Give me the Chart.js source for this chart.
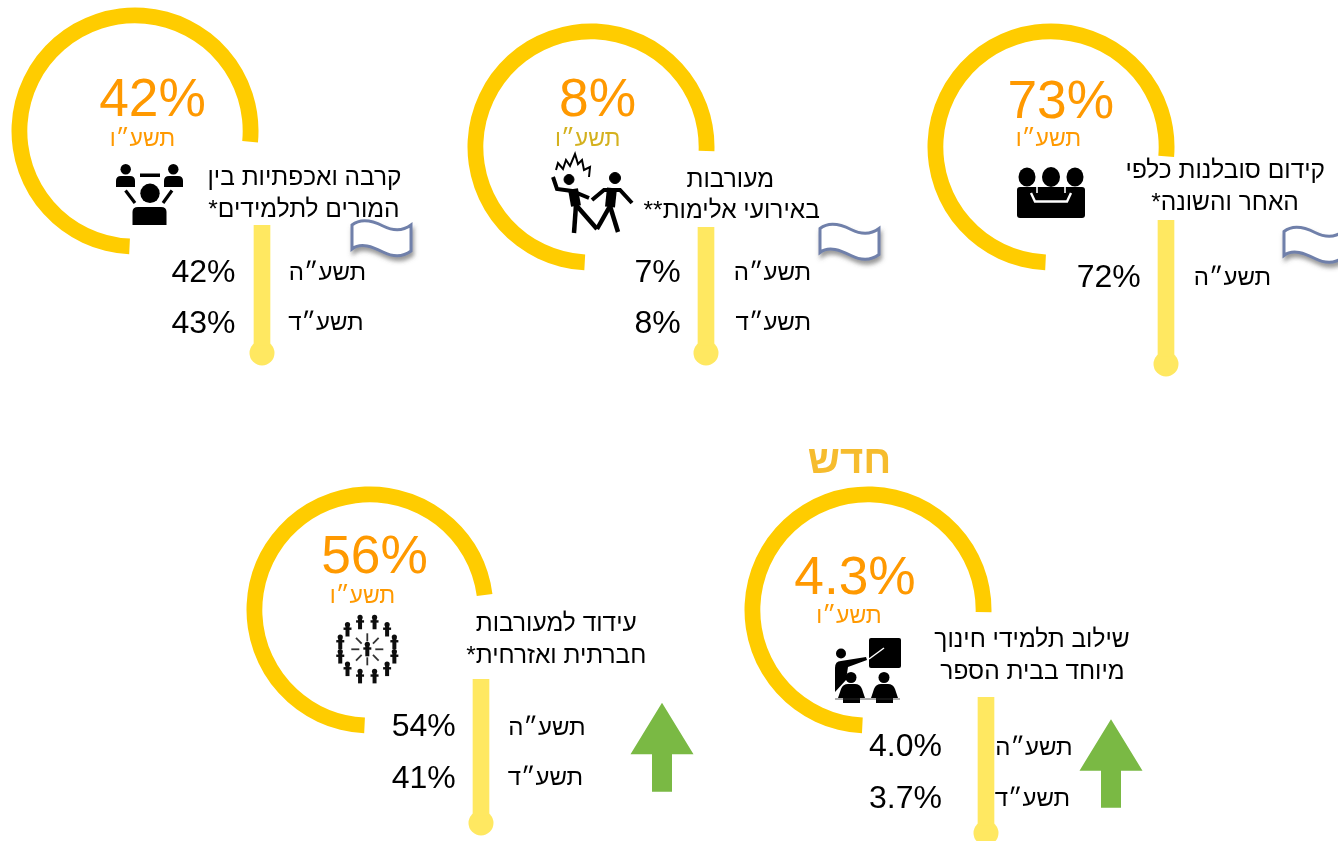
<!DOCTYPE html>
<html lang="he">
<head>
<meta charset="utf-8">
<title>gauges</title>
<script src="https://cdn.jsdelivr.net/npm/chart.js@4"></script>
<style>
  html, body { margin: 0; padding: 0; background: #fff; width: 1338px; height: 841px; overflow: hidden; }
  canvas { position: absolute; }
  #overlay { position: absolute; left: 0; top: 0; }
  #overlay text { font-family: "Liberation Sans", Arial, sans-serif; }
</style>
</head>
<body>
<svg id="overlay" width="1338" height="841" xmlns="http://www.w3.org/2000/svg">
  <defs>
    <filter id="flagShadow" x="-20%" y="-20%" width="150%" height="170%">
      <feDropShadow dx="1.5" dy="4" stdDeviation="2" flood-color="#555" flood-opacity="0.6"/>
    </filter>
    <filter id="soft" x="-10%" y="-10%" width="120%" height="120%"><feGaussianBlur stdDeviation="0.5"/></filter>
    <filter id="softer" x="-10%" y="-10%" width="120%" height="120%"><feGaussianBlur stdDeviation="0.7"/></filter>
  </defs>
</svg>
<script>
var panelTitles = [
  ["קרבה ואכפתיות בין", "המורים לתלמידים*"],
  ["מעורבות", "באירועי אלימות**"],
  ["קידום סובלנות כלפי", "האחר והשונה*"],
  ["עידוד למעורבות", "חברתית ואזרחית*"],
  ["שילוב תלמידי חינוך", "מיוחד בבית הספר"]
];
var yearNow = "תשע״ו";
var yearPrev = "תשע״ה";
var yearOlder = "תשע״ד";
var newBadge = "חדש";

var valuesNow = [42, 8, 73, 56, 4.3];
var valuesPrev = [42, 7, 72, 54, 4.0];
var valuesOlder = [43, 8, null, 41, 3.7];
var decimals = [0, 0, 0, 0, 1];

// ring sweep in degrees, the ring is the same decoration on every panel
var ringArc = [272.6, 268.9, 272, 259.8, 268.3];
var ringGap = [87.4, 91.1, 88, 100.2, 91.7];

var RING = "#FFCC00", STEM = "#FFE861", ORANGE = "#FF9900", GREEN = "#7AB944";

// where things sit on the page
var layout = [
  { cx: 134.5, cy: 130.5, start: 182.7, stem: [261.5, 225, 120, 128], big: [152.5, 116], sub: [142.5, 145.5], subColor: ORANGE,
    title: [[304.5, 185], [304, 216.7]], valX: 235.5, valY: [281.7, 332.5], yearX: [327.5, 326], yearY: [280, 330] },
  { cx: 590.5, cy: 147, start: 183.1, stem: [706, 227, 118, 126], big: [597.5, 115.5], sub: [587.7, 146], subColor: "#D4B11E",
    title: [[730.3, 186.7], [731.7, 218]], valX: 680.7, valY: [281.7, 332.7], yearX: [772.5, 773.3], yearY: [280, 330] },
  { cx: 1051.2, cy: 147, start: 182.7, stem: [1166, 220, 136, 144], big: [1060.8, 118.3], sub: [1048.5, 146], subColor: ORANGE,
    title: [[1225.3, 178.3], [1225, 210]], valX: 1140.7, valY: [286.7], yearX: [1232.5], yearY: [285] },
  { cx: 369.5, cy: 610, start: 182.7, stem: [481, 679, 136, 144], big: [374.5, 573.3], sub: [362.5, 602.7], subColor: ORANGE,
    title: [[556.3, 631], [556.3, 663.3]], valX: 455.7, valY: [736, 787.7], yearX: [547, 545.5], yearY: [735, 785] },
  { cx: 868, cy: 609.5, start: 182.8, stem: [985.5, 697, 128, 136], big: [855, 594], sub: [849, 622.7], subColor: ORANGE,
    title: [[1032, 647.3], [1032.5, 679.3]], valX: 942, valY: [756, 808], yearX: [1034, 1032.5], yearY: [755, 805.7] }
];

Chart.defaults.animation = false;

var svg = document.getElementById("overlay");

function el(tag, attrs, parent) {
  var e = document.createElementNS("http://www.w3.org/2000/svg", tag);
  for (var k in attrs) e.setAttribute(k, attrs[k]);
  (parent || svg).appendChild(e);
  return e;
}

function addText(str, x, y, size, color, anchor, bold) {
  var t = el("text", { x: x, y: y, "font-size": size, fill: color, "text-anchor": anchor || "middle", direction: "rtl" });
  if (anchor === "ltr-end") { t.setAttribute("text-anchor", "end"); t.setAttribute("direction", "ltr"); }
  if (bold) t.setAttribute("font-weight", "bold");
  t.textContent = str;
}

function addCanvas(x, y, w, h) {
  var c = document.createElement("canvas");
  c.width = w; c.height = h;
  c.style.left = x + "px"; c.style.top = y + "px";
  c.style.width = w + "px"; c.style.height = h + "px";
  document.body.insertBefore(c, svg);
  return c;
}

function drawRing(i) {
  var p = layout[i];
  new Chart(addCanvas(p.cx - 125, p.cy - 125, 250, 250), {
    type: "doughnut",
    data: {
      datasets: [{
        data: [ringArc[i], ringGap[i]],
        backgroundColor: [RING, "rgba(0,0,0,0)"],
        borderWidth: 0
      }]
    },
    options: {
      responsive: false,
      rotation: p.start,
      circumference: 360,
      radius: 123.5,
      cutout: "87.2%",
      events: [],
      plugins: { legend: { display: false }, tooltip: { enabled: false } }
    }
  });
}

function drawStem(i) {
  var s = layout[i].stem;
  var h = s[3] + 13;
  new Chart(addCanvas(s[0] - 14, s[1], 28, h), {
    data: {
      labels: [""],
      datasets: [
        { type: "bar", data: [[0, s[2]]], backgroundColor: STEM, barThickness: 16 },
        { type: "line", data: [s[3]], pointRadius: 12.5, pointBackgroundColor: STEM, pointBorderWidth: 0, showLine: false, clip: false }
      ]
    },
    options: {
      responsive: false,
      events: [],
      layout: { padding: 0, autoPadding: false },
      scales: {
        x: { display: false },
        y: { display: false, reverse: true, min: 0, max: h }
      },
      plugins: { legend: { display: false }, tooltip: { enabled: false } }
    }
  });
}

function drawFlag(x, y) {
  var g = el("g", { transform: "translate(" + x + "," + y + ")", filter: "url(#flagShadow)" });
  el("path", {
    d: "M1,4 C10,-3 22,0 32,5 C42,10 52,10 60,4 L60,30 C52,36 42,36 32,31 C22,26 10,21 1,28 Z",
    fill: "#fff", stroke: "#7080AA", "stroke-width": 3
  }, g);
}

function drawArrow(cx, top, baseY, bottom) {
  el("polygon", {
    points: [cx, top, cx + 31.5, baseY, cx + 10, baseY, cx + 10, bottom, cx - 10, bottom, cx - 10, baseY, cx - 31.5, baseY].join(","),
    fill: GREEN
  });
}

function iconTeachers() {
  var g = el("g", { fill: "#000" });
  el("circle", { cx: 125.7, cy: 169.3, r: 5.2 }, g);
  el("circle", { cx: 173.3, cy: 169.3, r: 5.2 }, g);
  el("path", { d: "M116,187 V181 Q116,176 121,176 H130 Q135,176 135,181 V187 Z" }, g);
  el("path", { d: "M164,187 V181 Q164,176 169,176 H178 Q183,176 183,181 V187 Z" }, g);
  el("rect", { x: 140, y: 173.5, width: 20, height: 3.5 }, g);
  el("circle", { cx: 150, cy: 193.3, r: 9.7 }, g);
  el("path", { d: "M132.5,225 V212 Q132.5,207 138,207 H161 Q166.5,207 166.5,212 V225 Z" }, g);
  el("line", { x1: 125.5, y1: 190.5, x2: 135, y2: 203, stroke: "#000", "stroke-width": 3.2 }, g);
  el("line", { x1: 172, y1: 190.5, x2: 163, y2: 203, stroke: "#000", "stroke-width": 3.2 }, g);
}

function iconViolence() {
  var g = el("g", { stroke: "#000", fill: "none", "stroke-width": 4.5, filter: "url(#soft)" });
  el("circle", { cx: 569, cy: 179.5, r: 5, fill: "#000", "stroke-width": 1 }, g);
  el("circle", { cx: 615, cy: 178, r: 5.5, fill: "#000", "stroke-width": 1 }, g);
  // left figure
  el("polyline", { points: "553,177 557,189 572,191 589,198", "stroke-width": 4 }, g);
  el("line", { x1: 573, y1: 189, x2: 576, y2: 206, "stroke-width": 10 }, g);
  el("polyline", { points: "576,205 574,233" }, g);
  el("polyline", { points: "576,205 597,229" }, g);
  // right figure
  el("polyline", { points: "592,200 604,190 620,190 632,203", "stroke-width": 4 }, g);
  el("line", { x1: 612, y1: 188, x2: 610, y2: 207, "stroke-width": 10 }, g);
  el("polyline", { points: "610,206 597,229" }, g);
  el("polyline", { points: "610,206 618,232" }, g);
  // the spark over the left head
  el("polyline", { points: "556,170 558,163 563,169 566,160 570,166 575,154 578,164 582,160 584,170 590,167 589,177", "stroke-width": 2 }, g);
}

function iconGroup() {
  var g = el("g", { fill: "#000" });
  el("ellipse", { cx: 1027, cy: 177, rx: 8.5, ry: 9.5 }, g);
  el("ellipse", { cx: 1051, cy: 177, rx: 9, ry: 10 }, g);
  el("ellipse", { cx: 1075, cy: 177, rx: 8.5, ry: 9.5 }, g);
  el("rect", { x: 1017, y: 187, width: 68, height: 31, rx: 3 }, g);
  el("polyline", { points: "1031,193 1035,201.5 1067,201.5 1071,193", fill: "none", stroke: "#fff", "stroke-width": 2.4 }, g);
  el("line", { x1: 1037, y1: 187, x2: 1037, y2: 193, stroke: "#fff", "stroke-width": 1.6 }, g);
  el("line", { x1: 1065, y1: 187, x2: 1065, y2: 193, stroke: "#fff", "stroke-width": 1.6 }, g);
}

function iconCrowd() {
  var g = el("g", { fill: "#111", filter: "url(#softer)" });
  var c = [367.3, 649.3];
  function figure(x, y) {
    el("circle", { cx: x, cy: y - 5, r: 2.6 }, g);
    el("rect", { x: x - 2, y: y - 4, width: 4, height: 11 }, g);
    el("rect", { x: x - 4, y: y - 2, width: 8, height: 2.4 }, g);
  }
  for (var a = 0; a < 12; a++) {
    var t = (a + 0.5) * Math.PI / 6;
    figure(c[0] + 28 * Math.sin(t), c[1] - 28 * Math.cos(t));
  }
  for (var b = 0; b < 8; b++) {
    var u = b * Math.PI / 4;
    el("line", {
      x1: c[0] + 8 * Math.sin(u), y1: c[1] - 8 * Math.cos(u),
      x2: c[0] + 16 * Math.sin(u), y2: c[1] - 16 * Math.cos(u),
      stroke: "#333", "stroke-width": 1.8
    }, g);
  }
  figure(c[0], c[1]);
}

function iconClass() {
  var g = el("g", { fill: "#000" });
  el("rect", { x: 869, y: 638, width: 32, height: 30, rx: 2 }, g);
  el("line", { x1: 869, y1: 659, x2: 884, y2: 648, stroke: "#fff", "stroke-width": 1.5 }, g);
  el("circle", { cx: 841, cy: 653.5, r: 5 }, g);
  el("path", { d: "M835,668 Q835,661 841,661 L866,657 L867,660 L848,667 L846,680 L835,692 Z" }, g);
  el("circle", { cx: 851, cy: 677.5, r: 5.5 }, g);
  el("circle", { cx: 884, cy: 677.5, r: 5.5 }, g);
  el("path", { d: "M838,698 L841,689 Q843,684 848,684 H855 Q860,684 862,689 L865,698 H860 V703 H843 V698 Z" }, g);
  el("path", { d: "M871,698 L874,689 Q876,684 881,684 H888 Q893,684 895,689 L898,698 H893 V703 H876 V698 Z" }, g);
  el("line", { x1: 835, y1: 699, x2: 900, y2: 699, stroke: "#333", "stroke-width": 0.8 }, g);
}

function fmt(v, i) {
  return v.toFixed(decimals[i]) + "%";
}

function drawPanel(i) {
  var p = layout[i];
  drawRing(i);
  drawStem(i);
  addText(fmt(valuesNow[i], i), p.big[0], p.big[1], 53.3, ORANGE);
  addText(yearNow, p.sub[0], p.sub[1], 23, p.subColor);
  panelTitles[i].forEach(function (line, n) {
    addText(line, p.title[n][0], p.title[n][1], 24.5, "#000");
  });
  addText(fmt(valuesPrev[i], i), p.valX, p.valY[0], 32, "#000", "ltr-end");
  addText(yearPrev, p.yearX[0], p.yearY[0], 24, "#000");
  if (valuesOlder[i] !== null) {
    addText(fmt(valuesOlder[i], i), p.valX, p.valY[1], 32, "#000", "ltr-end");
    addText(yearOlder, p.yearX[1], p.yearY[1], 24, "#000");
  }
}

iconTeachers();
iconViolence();
iconGroup();
iconCrowd();
iconClass();

drawFlag(351, 221);
drawFlag(819, 224.5);
drawFlag(1283, 227.5);
drawArrow(662, 702.7, 754.3, 791.7);
drawArrow(1111, 719.3, 770.7, 807.7);

for (var i = 0; i < layout.length; i++) drawPanel(i);

addText(newBadge, 849.5, 473.3, 40, "#F6BC2E", "middle", true);
</script>
</body>
</html>
